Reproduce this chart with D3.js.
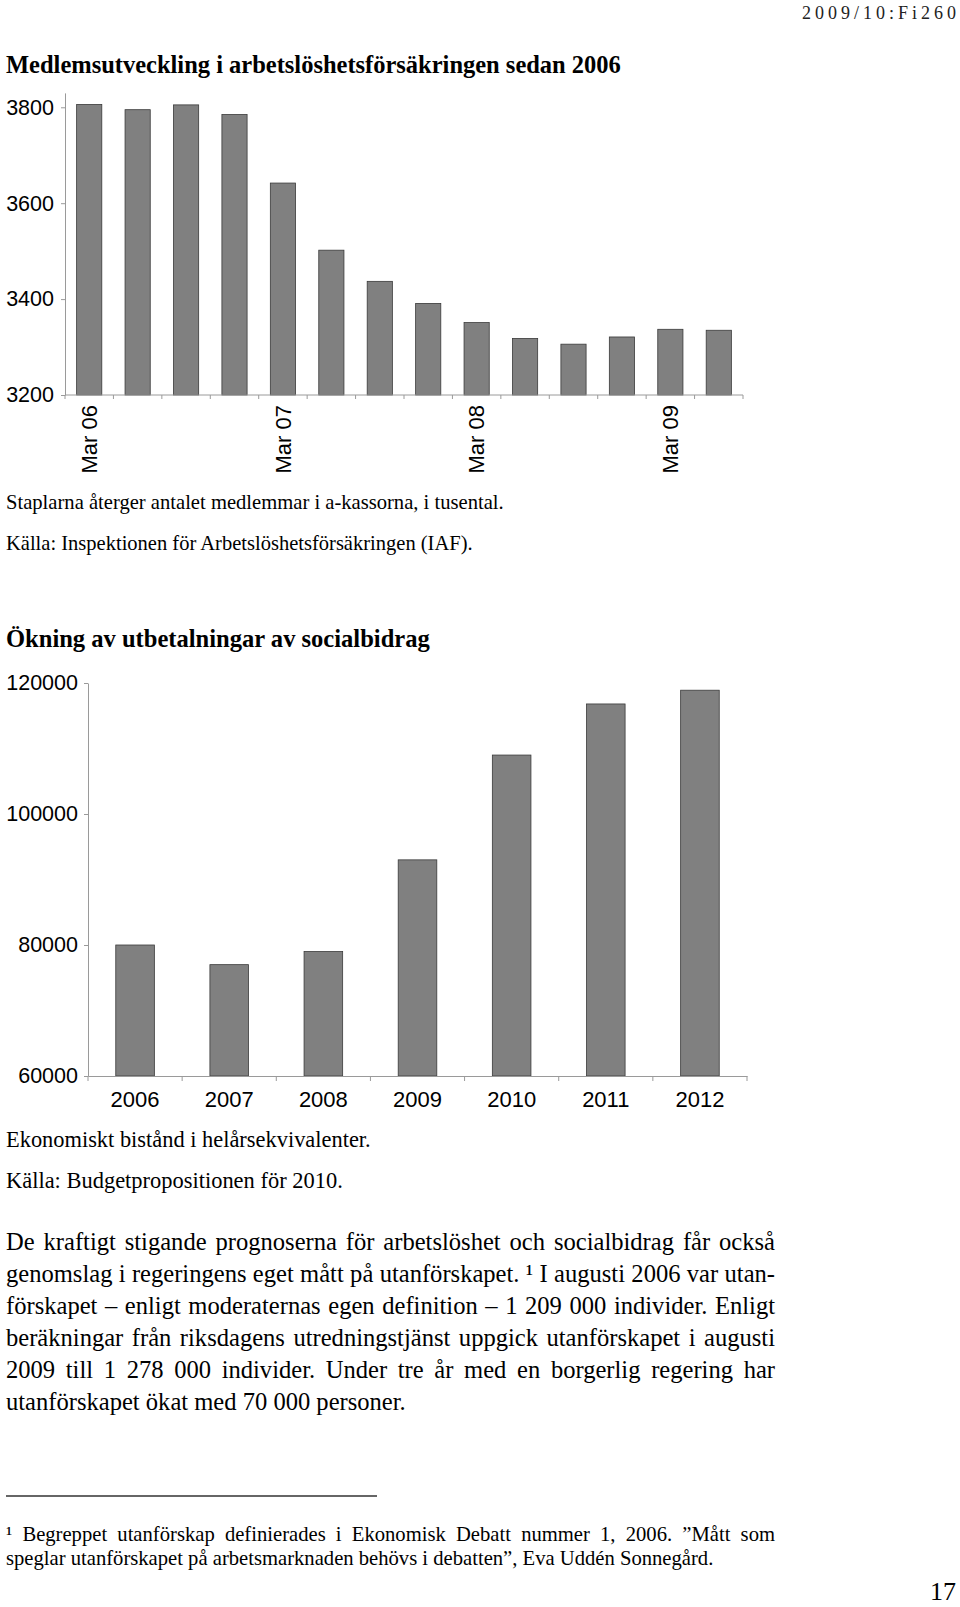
<!DOCTYPE html>
<html><head><meta charset="utf-8">
<script src="https://cdn.jsdelivr.net/npm/d3@7"></script>
<style>body{margin:0;background:#fff} svg{display:block}</style>
</head><body>
<svg id="page" width="960" height="1607"></svg>
<script>
// ---------- DATA ----------
const quarters1 = ["Mar 06","Jun 06","Sep 06","Dec 06","Mar 07","Jun 07","Sep 07","Dec 07","Mar 08","Jun 08","Sep 08","Dec 08","Mar 09","Jun 09"];
const members1 = [3806,3795,3805,3785,3642,3502,3437,3391,3351,3318,3306,3321,3337,3335];
const yTicks1 = [3200,3400,3600,3800];
const shownLabels1 = ["Mar 06","Mar 07","Mar 08","Mar 09"];

const years2 = ["2006","2007","2008","2009","2010","2011","2012"];
const welfare2 = [80000,77000,79000,93000,109000,116800,118900];
const yTicks2 = [60000,80000,100000,120000];

const title1 = "Medlemsutveckling i arbetslöshetsförsäkringen sedan 2006";
const caption1 = ["Staplarna återger antalet medlemmar i a-kassorna, i tusental.",
                  "Källa: Inspektionen för Arbetslöshetsförsäkringen (IAF)."];
const title2 = "Ökning av utbetalningar av socialbidrag";
const caption2 = ["Ekonomiskt bistånd i helårsekvivalenter.",
                  "Källa: Budgetpropositionen för 2010."];
const paragraph = [
 "De kraftigt stigande prognoserna för arbetslöshet och socialbidrag får också",
 "genomslag i regeringens eget mått på utanförskapet. ¹ I augusti 2006 var utan-",
 "förskapet – enligt moderaternas egen definition – 1 209 000 individer. Enligt",
 "beräkningar från riksdagens utredningstjänst uppgick utanförskapet i augusti",
 "2009 till 1 278 000 individer. Under tre år med en borgerlig regering har",
 "utanförskapet ökat med 70 000 personer."
];
const footnote = [
 "¹ Begreppet utanförskap definierades i Ekonomisk Debatt nummer 1, 2006. ”Mått som",
 "speglar utanförskapet på arbetsmarknaden behövs i debatten”, Eva Uddén Sonnegård."
];
const header = "2009/10:Fi260";
const pageNo = "17";

// ---------- HELPERS ----------
const svg = d3.select("#page");
const SERIF = "'Liberation Serif','Times New Roman',serif";
const SANS = "'Liberation Sans',Arial,sans-serif";

function fitText(str, x, y, width, weight, family, baseFs) {
  const t = svg.append("text").attr("x", x).attr("y", y)
    .attr("font-family", family).attr("font-weight", weight || "normal")
    .attr("font-size", baseFs).attr("fill", "#000").text(str);
  const w = t.node().getComputedTextLength();
  t.attr("font-size", baseFs * width / w);
  return t;
}
function measure(str, fs, family) {
  const t = svg.append("text").attr("font-family", family).attr("font-size", fs).text(str);
  const w = t.node().getComputedTextLength(); t.remove(); return w;
}
function justifyLine(str, x0, x1, y, fs, family) {
  const words = str.split(" ");
  const g = svg.append("g");
  const nodes = words.map(w => g.append("text").attr("y", y)
      .attr("font-family", family).attr("font-size", fs).attr("fill", "#000").text(w));
  const widths = nodes.map(n => n.node().getComputedTextLength());
  const gap = (x1 - x0 - d3.sum(widths)) / (words.length - 1);
  let x = x0;
  nodes.forEach((n, i) => { n.attr("x", x); x += widths[i] + gap; });
}

// ---------- HEADER ----------
svg.append("text").attr("x", 802).attr("y", 19).attr("font-family", SERIF)
  .attr("font-size", 18).attr("fill", "#222").attr("textLength", 154)
  .attr("lengthAdjust", "spacing").text(header);

// ---------- CHART 1 ----------
fitText(title1, 6, 73, 615, "bold", SERIF, 22);

const x1 = d3.scaleBand().domain(quarters1).range([65, 743]).paddingInner(0.48).paddingOuter(0.24);
const y1 = d3.scaleLinear().domain([3200, 3830]).range([395, 92.9]);
const AX = "#9a9a9a";

svg.append("g").selectAll("rect").data(members1).join("rect")
  .attr("x", (d, i) => x1(quarters1[i])).attr("width", x1.bandwidth())
  .attr("y", d => y1(d)).attr("height", d => y1(3200) - y1(d))
  .attr("fill", "#808080").attr("stroke", "#3a3a3a").attr("stroke-width", 0.8);

const ya1 = svg.append("g").attr("transform", "translate(65,0)")
  .call(d3.axisLeft(y1).tickValues(yTicks1).tickSize(4).tickSizeOuter(0).tickPadding(7).tickFormat(d3.format("d")));
ya1.select(".domain").attr("stroke", AX);
ya1.selectAll(".tick line").attr("stroke", AX);
ya1.selectAll("text").attr("font-family", SANS).attr("font-size", 21.5).attr("fill", "#000");

// x axis line + boundary ticks
const xa1 = svg.append("g");
xa1.append("line").attr("x1", x1.range()[0]).attr("x2", x1.range()[1])
  .attr("y1", y1(3200)).attr("y2", y1(3200)).attr("stroke", AX);
xa1.selectAll("line.b").data(d3.range(quarters1.length + 1)).join("line").attr("class", "b")
  .attr("x1", i => x1.range()[0] + i * x1.step()).attr("x2", i => x1.range()[0] + i * x1.step())
  .attr("y1", y1(3200)).attr("y2", y1(3200) + 4).attr("stroke", AX);
xa1.selectAll("text").data(shownLabels1).join("text")
  .attr("transform", d => `translate(${x1(d) + x1.bandwidth() / 2},${y1(3200) + 10}) rotate(-90)`)
  .attr("text-anchor", "end").attr("dy", "0.35em")
  .attr("font-family", SANS).attr("font-size", 22).attr("fill", "#000").text(d => d);

fitText(caption1[0], 6, 509, 498, "normal", SERIF, 19);
fitText(caption1[1], 6, 550, 467, "normal", SERIF, 19);

// ---------- CHART 2 ----------
fitText(title2, 6, 647, 424, "bold", SERIF, 22);

const x2 = d3.scaleBand().domain(years2).range([88, 747]).paddingInner(0.59).paddingOuter(0.295);
const y2 = d3.scaleLinear().domain([60000, 120000]).range([1076, 683]);

svg.append("g").selectAll("rect").data(welfare2).join("rect")
  .attr("x", (d, i) => x2(years2[i])).attr("width", x2.bandwidth())
  .attr("y", d => y2(d)).attr("height", d => y2(60000) - y2(d))
  .attr("fill", "#808080").attr("stroke", "#3a3a3a").attr("stroke-width", 0.8);

const ya2 = svg.append("g").attr("transform", "translate(88,0)")
  .call(d3.axisLeft(y2).tickValues(yTicks2).tickSize(4).tickSizeOuter(0).tickPadding(6).tickFormat(d3.format("d")));
ya2.select(".domain").attr("stroke", AX);
ya2.selectAll(".tick line").attr("stroke", AX);
ya2.selectAll("text").attr("font-family", SANS).attr("font-size", 21.5).attr("fill", "#000");

const xa2 = svg.append("g").attr("transform", `translate(0,${y2(60000)})`)
  .call(d3.axisBottom(x2).tickSize(0).tickSizeOuter(0).tickPadding(15));
xa2.select(".domain").attr("stroke", AX);
xa2.selectAll("text").attr("font-family", SANS).attr("font-size", 22).attr("fill", "#000");
xa2.selectAll("line.b").data(d3.range(years2.length + 1)).join("line").attr("class", "b")
  .attr("x1", i => x2.range()[0] + i * x2.step()).attr("x2", i => x2.range()[0] + i * x2.step())
  .attr("y1", 0).attr("y2", 5).attr("stroke", AX);

fitText(caption2[0], 6, 1147, 365, "normal", SERIF, 19);
fitText(caption2[1], 6, 1188, 337, "normal", SERIF, 19);

// ---------- PARAGRAPH ----------
const pw = measure(paragraph[5], 20, SERIF);
const pfs = 20 * (406 - 6) / pw;
paragraph.forEach((line, i) => {
  const y = 1250 + i * 32;
  if (i < paragraph.length - 1) justifyLine(line, 6, 775, y, pfs, SERIF);
  else svg.append("text").attr("x", 6).attr("y", y).attr("font-family", SERIF)
        .attr("font-size", pfs).attr("fill", "#000").text(line);
});

// ---------- FOOTNOTE ----------
svg.append("line").attr("x1", 6).attr("x2", 377).attr("y1", 1496).attr("y2", 1496)
  .attr("stroke", "#333").attr("stroke-width", 1.5);
const fw = measure(footnote[1], 18, SERIF);
const ffs = 18 * (714 - 6) / fw;
justifyLine(footnote[0], 6, 775, 1541, ffs, SERIF);
svg.append("text").attr("x", 6).attr("y", 1565).attr("font-family", SERIF)
  .attr("font-size", ffs).attr("fill", "#000").text(footnote[1]);

// ---------- PAGE NUMBER ----------
svg.append("text").attr("x", 956).attr("y", 1600).attr("text-anchor", "end")
  .attr("font-family", SERIF).attr("font-size", 26).attr("fill", "#000").text(pageNo);
</script>
</body></html>
